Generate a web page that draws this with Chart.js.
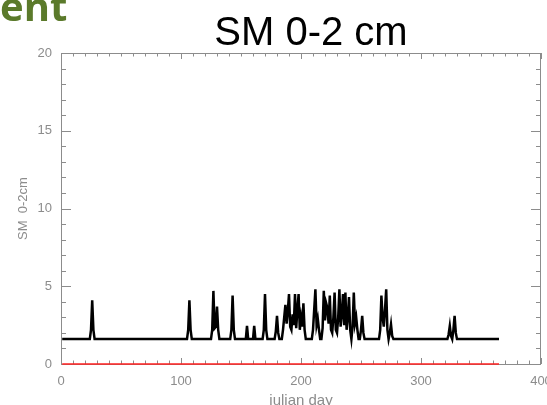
<!DOCTYPE html>
<html>
<head>
<meta charset="utf-8">
<title>SM 0-2 cm</title>
<script src="https://cdn.jsdelivr.net/npm/chart.js@4/dist/chart.umd.min.js"></script>
<style>
  html, body { margin: 0; padding: 0; background: #fff; overflow: hidden; }
  #wrap { position: relative; width: 547px; height: 405px; }
  #smChart { position: absolute; left: 0; top: 0; }
  #heading {
    position: absolute; left: 0; top: -14px;
    font: bold 40px "Open Sans", sans-serif; line-height: 40px;
    color: #5b7a2b; white-space: nowrap;
  }
</style>
</head>
<body>
<div id="wrap">
  <canvas id="smChart" width="547" height="405"></canvas>
  <div id="heading">ent</div>
</div>
<script>
// soil moisture, top layer (0-2 cm), one value per julian day
const firstDay = 1;
const lastDay = 365;
const baseLevel = 1.6;

// days that rise above the base level, and their values
const eventDays = [
  25, 26, 27,
  106, 107, 108,
  126, 127, 128, 129, 130, 131,
  142, 143, 144,
  155, 161,
  169, 170, 171,
  179, 180, 181,
  185, 186, 187, 188, 189, 190, 191, 192, 193, 194, 195, 196, 197, 198, 199, 200, 201, 202, 203,
  210, 211, 212, 213, 214, 215,
  218, 219, 220, 221, 222, 223, 224, 225, 226, 227, 228, 229, 230, 231, 232, 233, 234, 235,
  236, 237, 238, 239, 240, 241, 243, 244, 245, 246, 247,
  250, 251, 252,
  266, 267, 268, 269, 270, 271, 272, 274, 275, 276,
  323, 324, 325, 327, 328, 329
];
const eventValues = [
  2.2, 4.1, 2.2,
  2.2, 4.1, 2.2,
  2.2, 4.7, 2.3, 2.4, 3.7, 2.2,
  2.2, 4.4, 2.2,
  2.45, 2.45,
  2.2, 4.5, 2.2,
  2.1, 3.1, 2.0,
  2.2, 3.0, 3.8, 2.6, 3.4, 4.5, 2.4, 2.2, 3.2, 2.5, 4.5, 2.3, 3.5, 4.5, 2.2, 3.0, 2.4, 3.9, 2.2,
  2.2, 3.5, 4.8, 2.5, 2.9, 2.2,
  2.3, 4.7, 2.8, 3.9, 3.6, 2.6, 4.4, 2.2, 2.0, 3.0, 4.6, 2.2, 2.0, 3.0, 4.8, 2.4, 3.2, 4.5,
  2.5, 4.6, 2.2, 3.0, 4.3, 2.2, 2.4, 4.6, 2.6, 3.0, 2.2,
  2.2, 3.1, 2.0,
  2.2, 4.4, 3.0, 2.4, 3.5, 4.8, 2.2, 2.0, 2.55, 1.8,
  1.9, 2.45, 1.8, 2.2, 3.1, 2.0
];
const refLevel = 0;

const xTicks = [0, 100, 200, 300, 400];
const yTicks = [0, 5, 10, 15, 20];

const smPoints = [];
const refPoints = [];
for (let d = firstDay; d <= lastDay; d++) {
  const i = eventDays.indexOf(d);
  smPoints.push({ x: d, y: i >= 0 ? eventValues[i] : baseLevel });
  refPoints.push({ x: d, y: refLevel });
}

const axisGrey = '#8c8c8c';
const labelFont = '13px "Liberation Sans", Arial, sans-serif';

// box frame with inward ticks on all four sides, labels and titles
const idlFrame = {
  id: 'idlFrame',
  beforeDatasetsDraw(chart) {
    const { ctx, chartArea: a, scales: { x, y } } = chart;
    ctx.save();
    ctx.strokeStyle = axisGrey;
    ctx.lineWidth = 1;
    ctx.strokeRect(a.left + 0.5, a.top + 0.5, a.right - a.left - 1, a.bottom - a.top);
    ctx.beginPath();
    for (let v = 0; v <= 400; v += 10) {
      const px = Math.round(x.getPixelForValue(v)) + 0.5;
      const len = v % 100 === 0 ? 6 : 3.5;
      ctx.moveTo(px, a.bottom); ctx.lineTo(px, a.bottom - len);
      ctx.moveTo(px, a.top); ctx.lineTo(px, a.top + len);
    }
    for (let v = 0; v <= 20; v += 1) {
      const py = Math.round(y.getPixelForValue(v)) + 0.5;
      const len = v % 5 === 0 ? 10 : 5;
      ctx.moveTo(a.left, py); ctx.lineTo(a.left + len, py);
      ctx.moveTo(a.right, py); ctx.lineTo(a.right - len, py);
    }
    ctx.stroke();
    ctx.restore();
  },
  afterDraw(chart) {
    const { ctx, chartArea: a, scales: { x, y } } = chart;
    ctx.save();
    ctx.fillStyle = axisGrey;
    ctx.font = labelFont;
    ctx.textAlign = 'center';
    ctx.textBaseline = 'middle';
    xTicks.forEach(v => ctx.fillText(String(v), x.getPixelForValue(v), a.bottom + 17));
    ctx.textAlign = 'right';
    yTicks.forEach(v => ctx.fillText(String(v), a.left - 9, y.getPixelForValue(v)));

    ctx.textAlign = 'center';
    ctx.textBaseline = 'top';
    ctx.font = '15px "Liberation Sans", Arial, sans-serif';
    ctx.fillText('julian day', (a.left + a.right) / 2, a.bottom + 29);

    ctx.translate(23, (a.top + a.bottom) / 2);
    ctx.rotate(-Math.PI / 2);
    ctx.textBaseline = 'middle';
    ctx.font = labelFont;
    ctx.fillText('SM  0-2cm', 0, 0);
    ctx.restore();

    ctx.save();
    ctx.fillStyle = '#000';
    ctx.font = '40px "Liberation Sans", Arial, sans-serif';
    ctx.textAlign = 'center';
    ctx.textBaseline = 'alphabetic';
    ctx.fillText('SM 0-2 cm', 311, 45);
    ctx.restore();
  }
};

new Chart(document.getElementById('smChart'), {
  type: 'line',
  data: {
    datasets: [
      {
        label: 'SM 0-2cm',
        data: smPoints,
        borderColor: '#000',
        borderWidth: 2.5,
        clip: 3
      },
      {
        label: 'reference',
        data: refPoints,
        borderColor: '#ff2020',
        borderWidth: 1.5,
        clip: 3
      }
    ]
  },
  options: {
    responsive: false,
    animation: false,
    layout: { padding: { left: 61, right: 6, top: 53, bottom: 41 } },
    elements: {
      point: { radius: 0 },
      line: { tension: 0, borderJoinStyle: 'miter' }
    },
    scales: {
      x: { type: 'linear', min: 0, max: 400, display: false },
      y: { min: 0, max: 20, display: false }
    },
    plugins: {
      legend: { display: false },
      tooltip: { enabled: false },
      title: { display: false }
    }
  },
  plugins: [idlFrame]
});
</script>
</body>
</html>
